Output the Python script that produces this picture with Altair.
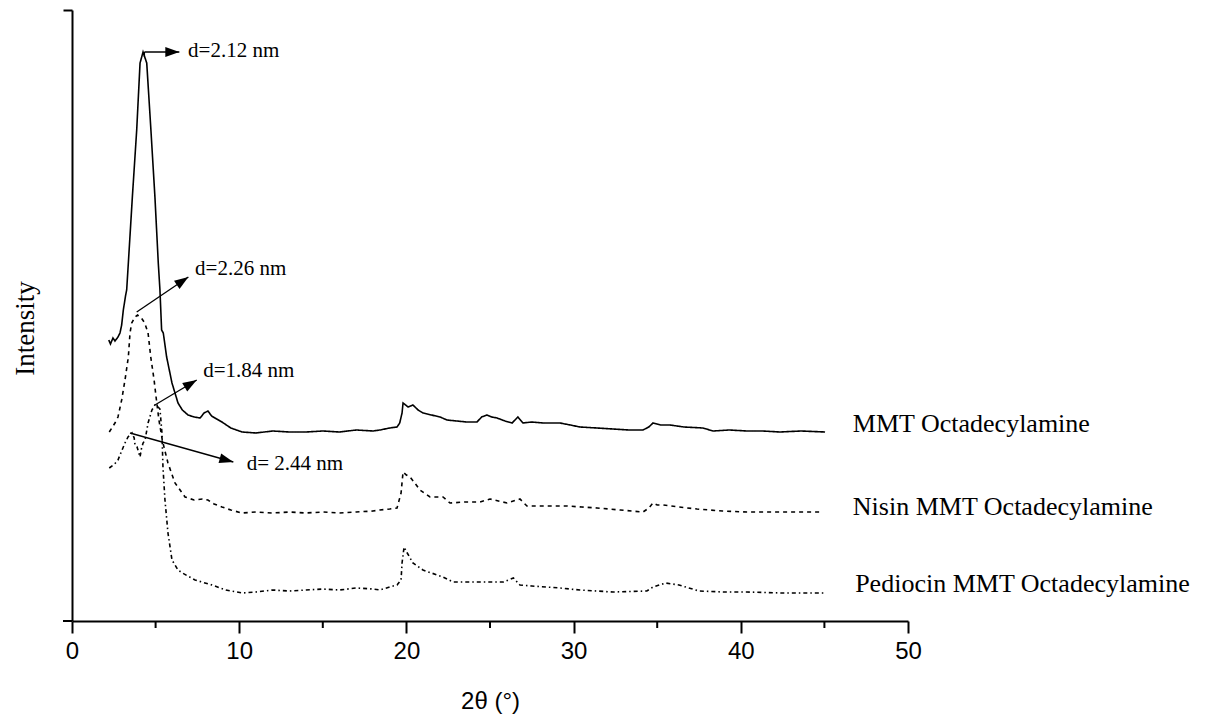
import math
import altair as alt
import pandas as pd

# ---- XRD patterns (2θ in degrees, intensity in arbitrary stacked units) ----
mmt_2theta = [2.2, 2.3, 2.45, 2.57, 2.75, 2.87, 2.97, 3.07, 3.2, 3.27, 3.37, 3.61, 3.87, 4.07, 4.25,
              4.47, 4.72, 4.96, 5.16, 5.26, 5.36, 5.46, 5.66, 5.98, 6.34, 6.6, 6.94, 7.3, 7.66, 7.9,
              8.13, 8.35, 8.55, 8.97, 9.5, 10.17, 11.0, 12.0, 13.0, 14.0, 15.0, 16.0, 17.0, 18.0,
              18.42, 19.0, 19.44, 19.6, 19.74, 19.8, 20.1, 20.39, 20.7, 20.99, 21.5, 22.01, 22.43,
              23.0, 23.6, 24.22, 24.5, 24.82, 25.1, 25.42, 25.9, 26.32, 26.67, 26.97, 27.5, 28.2,
              29.19, 29.8, 30.38, 31.4, 32.36, 33.3, 34.15, 34.5, 34.75, 35.2, 35.77, 36.6, 37.74,
              38.34, 39.3, 40.37, 41.3, 42.34, 43.6, 45.04]
mmt_int = [281, 277, 283, 280, 284, 288, 296, 311, 325, 331, 358, 424, 491, 558, 569,
           558, 491, 424, 358, 331, 291, 288, 264, 238, 218, 211, 206, 204, 203, 208,
           210, 205, 203, 199, 193, 189, 188, 190, 189, 189, 190, 189, 191, 190,
           191, 193, 194, 198, 208, 218, 214, 216, 211, 208, 206, 204, 201,
           200, 199, 199, 204, 206, 204, 203, 200, 198, 204, 198, 199, 198,
           198, 196, 194, 193, 192, 191, 191, 194, 198, 196, 196, 194, 193,
           190, 191, 190, 190, 189, 190, 189]

nisin_2theta = [2.23, 2.57, 2.75, 2.97, 3.17, 3.37, 3.47, 3.57, 3.77, 3.92, 4.15, 4.35, 4.55, 4.71,
                4.91, 5.05, 5.2, 5.4, 5.56, 5.74, 6.16, 6.76, 7.3, 7.8, 8.13, 8.5, 8.97, 9.5, 10.17,
                11.0, 12.0, 13.0, 14.0, 15.0, 16.0, 17.0, 18.0, 18.42, 19.0, 19.44, 19.68, 19.8,
                20.0, 20.22, 20.5, 20.81, 21.41, 22.19, 22.61, 23.5, 24.4, 25.0, 25.5, 26.02, 26.79,
                27.21, 28.5, 29.6, 30.5, 31.4, 32.8, 34.15, 34.5, 34.75, 35.0, 35.35, 36.3, 37.38,
                38.9, 40.37, 41.9, 43.36, 44.86]
nisin_int = [189, 198, 204, 221, 241, 264, 288, 298, 304, 306, 303, 298, 288, 264,
             241, 221, 201, 181, 170, 158, 138, 124, 121, 122, 121, 117, 114, 111, 108,
             109, 108, 109, 108, 109, 108, 109, 110, 111, 112, 113, 128, 149,
             146, 144, 138, 131, 124, 124, 118, 119, 119, 122, 120, 118, 122,
             115, 115, 115, 114, 113, 111, 109, 113, 118, 116, 116, 114, 112,
             110, 109, 109, 109, 109]

pediocin_2theta = [2.23, 2.55, 2.75, 2.97, 3.17, 3.35, 3.59, 3.72, 3.77, 3.89, 4.0, 4.07, 4.15, 4.25,
                   4.37, 4.55, 4.78, 4.96, 5.1, 5.26, 5.38, 5.44, 5.56, 5.74, 5.98, 6.34, 6.6, 7.36,
                   8.37, 9.2, 10.17, 11.0, 12.0, 13.0, 14.0, 15.0, 16.0, 17.0, 18.0, 18.42, 19.0,
                   19.44, 19.68, 19.74, 19.86, 20.05, 20.39, 20.99, 21.5, 22.19, 22.8, 24.4, 25.0,
                   25.8, 26.4, 26.79, 27.5, 29.19, 30.38, 32.36, 34.38, 34.75, 35.5, 36.3, 37.5,
                   39.0, 40.37, 42.5, 43.4, 45.04]
pediocin_int = [153, 157, 161, 170, 178, 184, 188, 183, 176, 174, 168, 164, 172, 178,
                181, 198, 211, 216, 215, 212, 188, 154, 121, 88, 61, 51, 48, 41,
                36, 31, 28, 29, 31, 30, 31, 32, 31, 33, 32, 31, 34,
                36, 41, 58, 74, 68, 58, 51, 48, 44, 39, 39, 39,
                39, 43, 36, 35, 33, 31, 29, 30, 34, 38, 36, 30,
                29, 29, 28, 28, 28]

# ---- sample names written at the right end of each pattern ----
sample_names = ["MMT Octadecylamine", "Nisin MMT Octadecylamine", "Pediocin MMT Octadecylamine"]
sample_x = [46.7, 46.7, 46.84]
sample_y = [189, 106, 29]

# ---- basal spacing call-outs: arrow start, arrow tip, text anchor ----
spacing_text = ["d=2.12 nm", "d=2.26 nm", "d=1.84 nm", "d= 2.44 nm"]
arrow_x0 = [4.33, 3.87, 4.96, 3.47]
arrow_y0 = [569, 309, 216, 188]
arrow_x1 = [6.42, 6.96, 7.46, 9.65]
arrow_y1 = [569, 344, 241, 159]
text_x = [6.94, 7.36, 7.85, 10.45]
text_y = [564, 346, 244, 151]

minor_ticks = [5, 15, 25, 35, 45]

W, H = 836, 611
X_DOMAIN = [0, 50]
Y_DOMAIN = [0, 611]
PX_X = W / (X_DOMAIN[1] - X_DOMAIN[0])
PX_Y = H / (Y_DOMAIN[1] - Y_DOMAIN[0])

SERIF = "Liberation Serif, Times New Roman, serif"
NARROW = "Liberation Sans Narrow, Arial Narrow, Liberation Sans, sans-serif"

x_scale = alt.Scale(domain=X_DOMAIN, nice=False, zero=False)
y_scale = alt.Scale(domain=Y_DOMAIN, nice=False, zero=False)

x_axis = alt.Axis(
    values=[0, 10, 20, 30, 40, 50], title="2θ (°)", grid=False,
    domainColor="black", domainWidth=2, tickColor="black", tickWidth=2, tickSize=12,
    labelFont=NARROW, labelFontSize=24, labelColor="black", labelPadding=6,
    labelFlush=False, labelOverlap=False,
    titleFont=NARROW, titleFontSize=24, titleFontWeight="normal", titleColor="black",
    titleX=418, titleY=80, titleBaseline="middle", titleAlign="center",
)
y_axis = alt.Axis(
    values=[611], labels=False, title="Intensity", grid=False,
    domainColor="black", domainWidth=2, tickColor="black", tickWidth=2, tickSize=9,
    titleFont=SERIF, titleFontSize=27, titleFontWeight="normal", titleColor="black",
    titleAngle=270, titleX=-47, titleY=318, titleBaseline="middle", titleAlign="center",
)


def xe(field):
    return alt.X(f"{field}:Q", scale=x_scale, axis=x_axis)


def ye(field):
    return alt.Y(f"{field}:Q", scale=y_scale, axis=y_axis)


def pattern(xs, ys, dash, width):
    df = pd.DataFrame({"two_theta": xs, "intensity": ys, "order": range(len(xs))})
    mark = alt.Chart(df).mark_line(color="black", strokeWidth=width, strokeDash=dash,
                                   strokeJoin="miter", interpolate="linear")
    return mark.encode(x=xe("two_theta"), y=ye("intensity"), order="order:Q")


mmt = pattern(mmt_2theta, mmt_int, [1, 0], 1.6)
nisin = pattern(nisin_2theta, nisin_int, [4, 4], 1.6)
pediocin = pattern(pediocin_2theta, pediocin_int, [4, 3, 1.5, 3], 1.6)

# arrows: shafts and heads, head rotated along each shaft in screen space
heads = []
for a, b, c, d in zip(arrow_x0, arrow_y0, arrow_x1, arrow_y1):
    ang = math.degrees(math.atan2(-(d - b) * PX_Y, (c - a) * PX_X)) % 360
    heads.append(ang)

arrows_df = pd.DataFrame({"x0": arrow_x0, "y0": arrow_y0, "x1": arrow_x1, "y1": arrow_y1,
                          "angle": heads})
shafts = alt.Chart(arrows_df).mark_rule(color="black", strokeWidth=1.3).encode(
    x=xe("x0"), y=ye("y0"), x2="x1:Q", y2="y1:Q")
tips = alt.Chart(arrows_df).mark_point(
    shape="M0,0L-2,-0.7L-2,0.7Z", filled=True, color="black", opacity=1, size=196,
).encode(x=xe("x1"), y=ye("y1"), angle=alt.Angle("angle:Q", scale=None))

# short riser from the top of the MMT peak to the horizontal arrow
riser_df = pd.DataFrame({"x": [arrow_x0[0]], "y": [arrow_y0[0] - 5], "y2": [arrow_y0[0]]})
riser = alt.Chart(riser_df).mark_rule(color="black", strokeWidth=1.3).encode(
    x=xe("x"), y=ye("y"), y2="y2:Q")

spacing_df = pd.DataFrame({"label": spacing_text, "x": text_x, "y": text_y})
spacing_labels = alt.Chart(spacing_df).mark_text(
    font=SERIF, fontSize=21, align="left", baseline="alphabetic", color="black",
).encode(x=xe("x"), y=ye("y"), text="label:N")

names_df = pd.DataFrame({"label": sample_names, "x": sample_x, "y": sample_y})
names = alt.Chart(names_df).mark_text(
    font=SERIF, fontSize=26, align="left", baseline="alphabetic", color="black",
).encode(x=xe("x"), y=ye("y"), text="label:N")

# minor ticks at the odd multiples of 5
minor_df = pd.DataFrame({"x": minor_ticks})
minor = alt.Chart(minor_df).mark_rule(color="black", strokeWidth=2).encode(
    x=xe("x"), y=alt.value(H), y2=alt.value(H + 7))

# x axis line continues a little to the left of the y axis
stub = alt.Chart(pd.DataFrame({"k": [0]})).mark_rule(color="black", strokeWidth=2).encode(
    x=alt.value(-9), x2=alt.value(0), y=alt.value(H))

chart = alt.layer(
    mmt, nisin, pediocin, shafts, riser, tips, spacing_labels, names, minor, stub
).properties(
    width=W, height=H,
    autosize=alt.AutoSizeParams(type="none"),
    padding={"left": 72, "top": 10, "right": 315, "bottom": 100},
    background="white",
).configure_view(stroke=None)

chart.save("out.html", embed_options={"renderer": "svg", "actions": False})
